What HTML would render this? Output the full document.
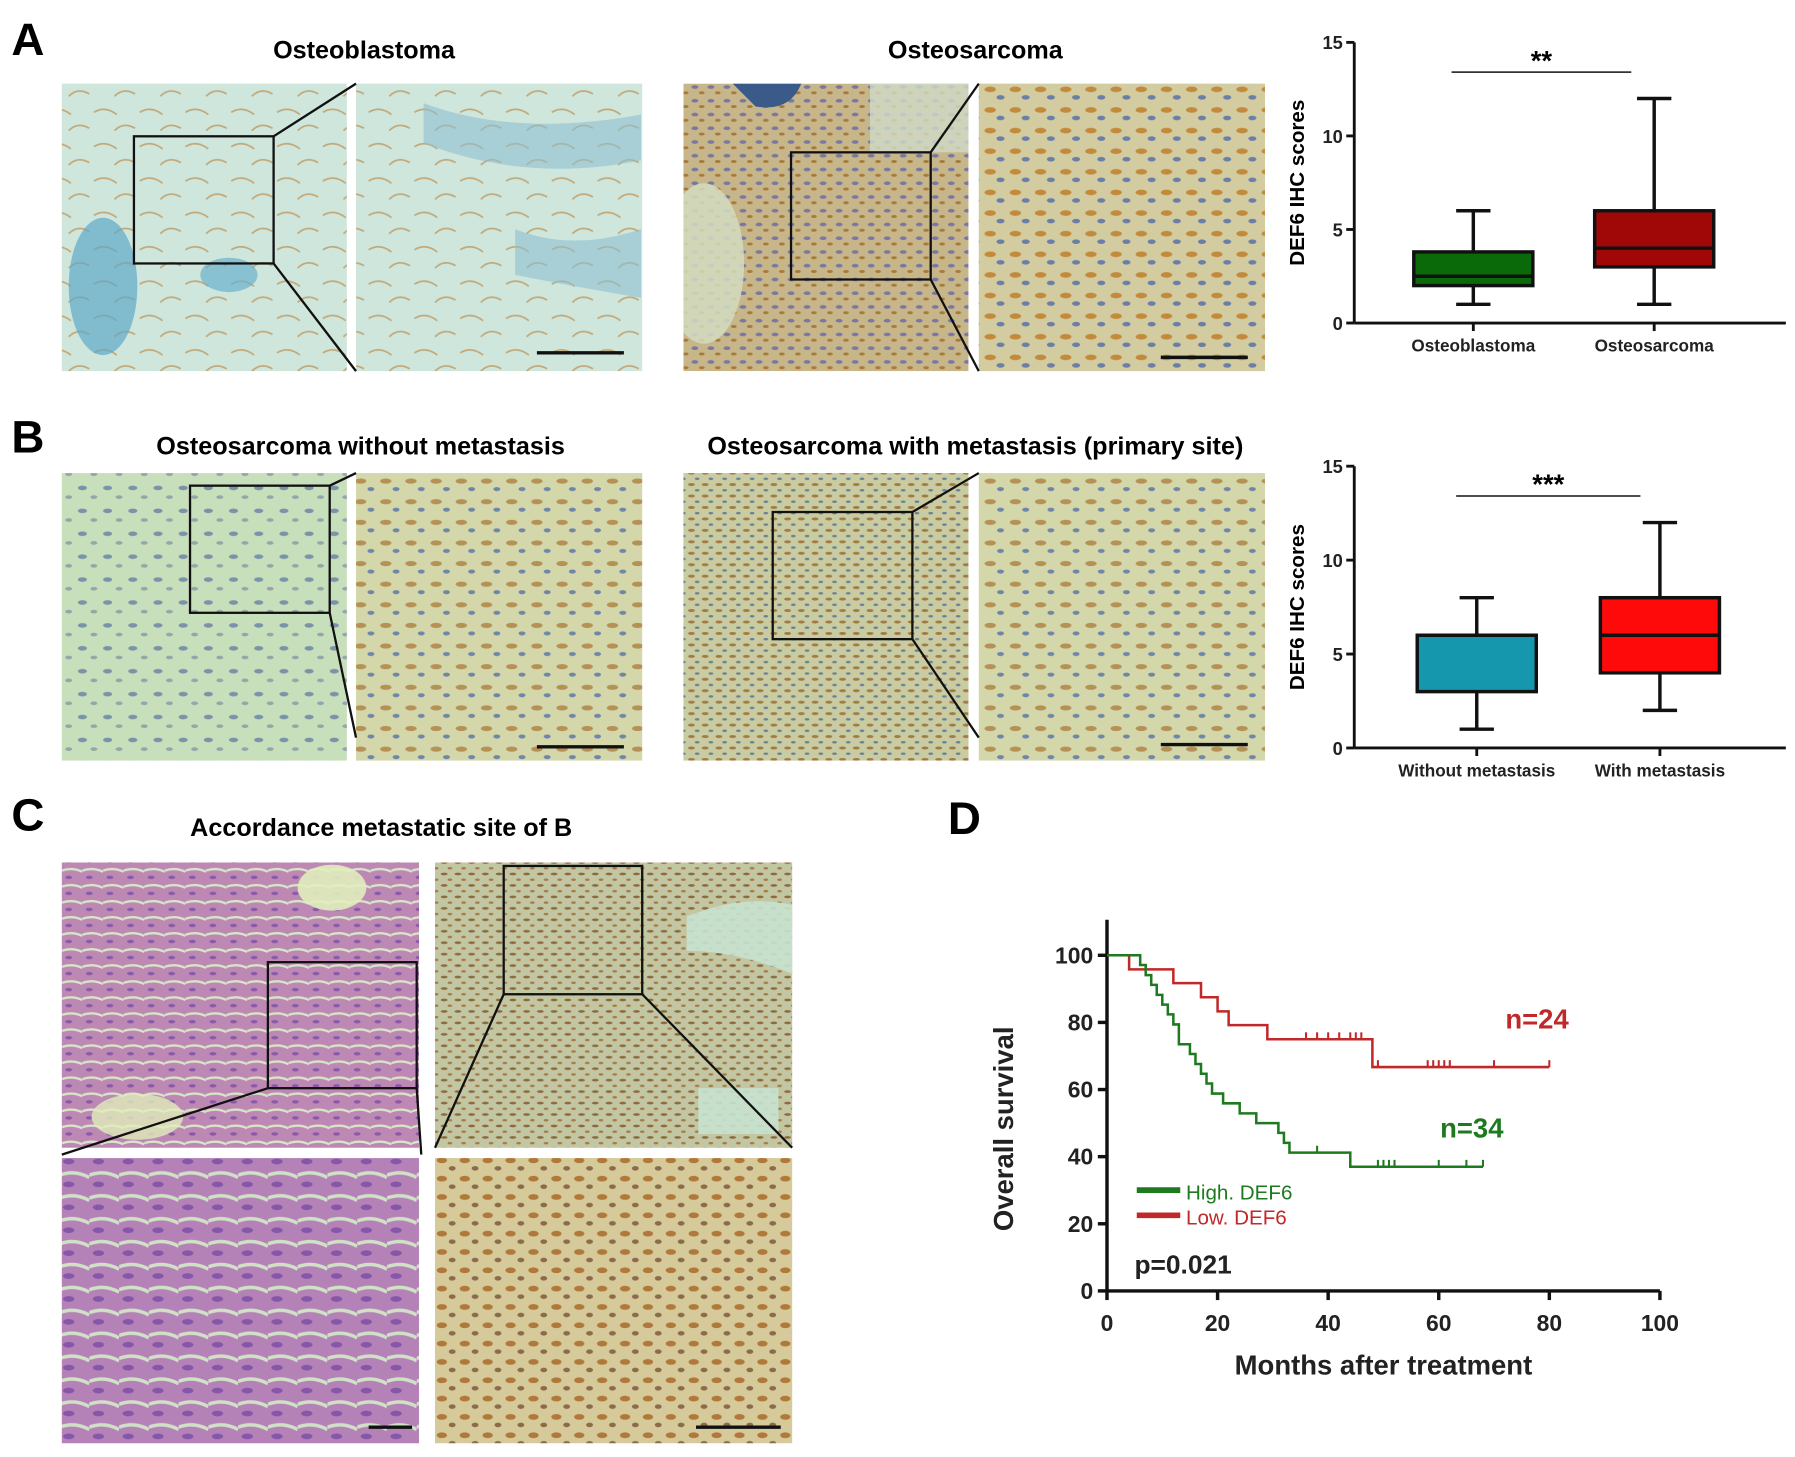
<!DOCTYPE html>
<html><head><meta charset="utf-8"><style>
html,body{margin:0;padding:0;background:#fff;}
svg{display:block;}
text{font-family:"Liberation Sans",sans-serif;}
</style></head><body>
<svg id="fig" width="1795" height="1457" viewBox="0 0 1568 1272" preserveAspectRatio="none" xmlns="http://www.w3.org/2000/svg">
<defs>
 <clipPath id="clipA2"><rect x="597" y="73" width="249" height="251"/></clipPath>
 <pattern id="pA1" width="40" height="30" patternUnits="userSpaceOnUse"><rect width="40" height="30" fill="#cfe6dc"/><path d="M2 8 q10 -6 20 2 M20 24 q8 -8 18 -2" stroke="#c2a878" stroke-width="1.5" fill="none"/></pattern>
 <pattern id="pA2" width="14" height="12" patternUnits="userSpaceOnUse"><rect width="14" height="12" fill="#c7b68a"/><ellipse cx="5" cy="4" rx="3" ry="1.6" fill="#7a78a0"/><ellipse cx="11" cy="9" rx="2.5" ry="1.3" fill="#a87a3a"/></pattern>
 <pattern id="pA3" width="22" height="18" patternUnits="userSpaceOnUse"><rect width="22" height="18" fill="#d2cca0"/><ellipse cx="7" cy="6" rx="5" ry="2.5" fill="#c48a3c"/><ellipse cx="16" cy="13" rx="3.5" ry="2" fill="#6b7ea8"/></pattern>
 <pattern id="pB1" width="22" height="20" patternUnits="userSpaceOnUse"><rect width="22" height="20" fill="#c8dfbc"/><ellipse cx="6" cy="6" rx="4" ry="2" fill="#7b93a8"/><ellipse cx="16" cy="14" rx="3" ry="1.6" fill="#93a7a8"/></pattern>
 <pattern id="pB2" width="12" height="10" patternUnits="userSpaceOnUse"><rect width="12" height="10" fill="#c9cba0"/><ellipse cx="4" cy="3" rx="3" ry="1.3" fill="#a27a48"/><ellipse cx="9" cy="8" rx="2" ry="1" fill="#6c7e98"/></pattern>
 <pattern id="pB3" width="22" height="18" patternUnits="userSpaceOnUse"><rect width="22" height="18" fill="#d3d7aa"/><ellipse cx="7" cy="6" rx="5" ry="2.3" fill="#b69155"/><ellipse cx="16" cy="13" rx="3" ry="1.8" fill="#6f86a8"/></pattern>
 <pattern id="pHE" width="18" height="14" patternUnits="userSpaceOnUse"><rect width="18" height="14" fill="#bd88b4"/><path d="M0 4 q9 -3 18 1" stroke="#d8e6c8" stroke-width="2" fill="none"/><ellipse cx="6" cy="10" rx="3" ry="1.5" fill="#8a5aa8"/></pattern>
 <pattern id="pHE2" width="26" height="20" patternUnits="userSpaceOnUse"><rect width="26" height="20" fill="#b582b8"/><path d="M0 6 q13 -5 26 2" stroke="#cfe2c6" stroke-width="3" fill="none"/><ellipse cx="8" cy="14" rx="5" ry="2.5" fill="#8656a8"/></pattern>
 <pattern id="pC2" width="12" height="10" patternUnits="userSpaceOnUse"><rect width="12" height="10" fill="#c2c6a2"/><ellipse cx="4" cy="3" rx="3" ry="1.2" fill="#8c6a3a"/><ellipse cx="9" cy="8" rx="2" ry="1" fill="#a67a44"/></pattern>
 <pattern id="pC4" width="20" height="16" patternUnits="userSpaceOnUse"><rect width="20" height="16" fill="#d6c99a"/><ellipse cx="6" cy="5" rx="4.5" ry="2.5" fill="#b0793a"/><ellipse cx="15" cy="12" rx="3" ry="2" fill="#8a6b4a"/></pattern>
</defs>

<text x="10" y="48" font-size="40" font-weight="bold">A</text>
<text x="10" y="395" font-size="40" font-weight="bold">B</text>
<text x="10" y="725" font-size="40" font-weight="bold">C</text>
<text x="828" y="728" font-size="40" font-weight="bold">D</text>

<g font-size="22" font-weight="bold" text-anchor="middle">
<text x="318" y="51">Osteoblastoma</text>
<text x="852" y="51">Osteosarcoma</text>
<text x="315" y="397">Osteosarcoma without metastasis</text>
<text x="852" y="397">Osteosarcoma with metastasis (primary site)</text>
<text x="333" y="730">Accordance metastatic site of B</text>
</g>

<g>
<rect x="54" y="73" width="249" height="251" fill="url(#pA1)"/>
<ellipse cx="90" cy="250" rx="30" ry="60" fill="#5fa8c8" opacity="0.7"/>
<ellipse cx="200" cy="240" rx="25" ry="15" fill="#6ab0cc" opacity="0.7"/>
<rect x="311" y="73" width="250" height="251" fill="url(#pA1)"/>
<path d="M370 90 q80 30 190 10 l0 40 q-100 20 -190 -15z" fill="#8ec0d0" opacity="0.6"/>
<path d="M450 200 q50 20 110 0 l0 60 q-60 -10 -110 -20z" fill="#8ec0d0" opacity="0.6"/>
<rect x="117" y="119" width="122" height="111" fill="none" stroke="#111" stroke-width="2"/>
<line x1="239" y1="119" x2="311" y2="73" stroke="#111" stroke-width="2"/>
<line x1="239" y1="230" x2="311" y2="324" stroke="#111" stroke-width="2"/>
<line x1="469" y1="308" x2="545" y2="308" stroke="#111" stroke-width="3"/>
<g clip-path="url(#clipA2)">
<rect x="597" y="73" width="249" height="251" fill="url(#pA2)"/>
<ellipse cx="615" cy="230" rx="35" ry="70" fill="#d4dcc0" opacity="0.85"/>
<path d="M640 73 l60 0 q-10 25 -40 20z" fill="#3a5a8a"/>
<rect x="760" y="73" width="86" height="60" fill="#cfdcc8" opacity="0.8"/>
</g>
<rect x="855" y="73" width="250" height="251" fill="url(#pA3)"/>
<rect x="691" y="133" width="122" height="111" fill="none" stroke="#111" stroke-width="2"/>
<line x1="813" y1="133" x2="855" y2="73" stroke="#111" stroke-width="2"/>
<line x1="813" y1="244" x2="855" y2="324" stroke="#111" stroke-width="2"/>
<line x1="1014" y1="312" x2="1090" y2="312" stroke="#111" stroke-width="3"/>
</g>

<g>
<rect x="54" y="413" width="249" height="251" fill="url(#pB1)"/>
<rect x="311" y="413" width="250" height="251" fill="url(#pB3)"/>
<rect x="166" y="424" width="122" height="111" fill="none" stroke="#111" stroke-width="2"/>
<line x1="288" y1="424" x2="311" y2="413" stroke="#111" stroke-width="2"/>
<line x1="288" y1="535" x2="311" y2="644" stroke="#111" stroke-width="2"/>
<line x1="469" y1="652" x2="545" y2="652" stroke="#111" stroke-width="3"/>
<rect x="597" y="413" width="249" height="251" fill="url(#pB2)"/>
<rect x="855" y="413" width="250" height="251" fill="url(#pB3)"/>
<rect x="675" y="447" width="122" height="111" fill="none" stroke="#111" stroke-width="2"/>
<line x1="797" y1="447" x2="855" y2="413" stroke="#111" stroke-width="2"/>
<line x1="797" y1="558" x2="855" y2="644" stroke="#111" stroke-width="2"/>
<line x1="1014" y1="650" x2="1090" y2="650" stroke="#111" stroke-width="3"/>
</g>

<g>
<rect x="54" y="753" width="312" height="249" fill="url(#pHE)"/>
<ellipse cx="290" cy="775" rx="30" ry="20" fill="#e0eebc" opacity="0.9"/>
<ellipse cx="120" cy="975" rx="40" ry="20" fill="#e0eebc" opacity="0.8"/>
<rect x="380" y="753" width="312" height="249" fill="url(#pC2)"/>
<path d="M600 800 q50 -20 92 -10 l0 60 q-50 -20 -92 -20z" fill="#c8e2d0" opacity="0.9"/>
<rect x="610" y="950" width="70" height="40" fill="#c8e2d0" opacity="0.9"/>
<rect x="54" y="1011" width="312" height="249" fill="url(#pHE2)"/>
<rect x="380" y="1011" width="312" height="249" fill="url(#pC4)"/>
<rect x="234" y="840" width="130" height="110" fill="none" stroke="#111" stroke-width="2"/>
<line x1="234" y1="950" x2="54" y2="1008" stroke="#111" stroke-width="2"/>
<line x1="364" y1="950" x2="368" y2="1008" stroke="#111" stroke-width="2"/>
<rect x="440" y="756" width="121" height="112" fill="none" stroke="#111" stroke-width="2"/>
<line x1="440" y1="868" x2="380" y2="1002" stroke="#111" stroke-width="2"/>
<line x1="561" y1="868" x2="692" y2="1002" stroke="#111" stroke-width="2"/>
<line x1="322" y1="1246" x2="360" y2="1246" stroke="#111" stroke-width="3"/>
<line x1="608" y1="1246" x2="682" y2="1246" stroke="#111" stroke-width="3"/>
</g>

<g id="boxA"></g>
<g id="boxB"></g>
<g id="km"></g>
</svg>
<script>
const NS="http://www.w3.org/2000/svg";
const boxACategories=["Osteoblastoma","Osteosarcoma"];
const boxAMin=[1,1], boxAQ1=[2,3], boxAMed=[2.5,4], boxAQ3=[3.8,6], boxAMax=[6,12];
const boxAColors=["#0a6a0a","#a00808"];
const boxBCategories=["Without metastasis","With metastasis"];
const boxBMin=[1,2], boxBQ1=[3,4], boxBMed=[6,6], boxBQ3=[6,8], boxBMax=[8,12];
const boxBColors=["#1597ad","#ff0a0a"];
const boxTicks=[0,5,10,15];
const kmHighTimes=[0,6,7,8,9,10,11,12,13,15,16,17,18,19,21,24,27,31,32,33,34,35,44,68];
const kmHighSurv=[100,97.1,94.1,91.2,88.2,85.3,82.4,79.4,73.5,70.6,67.6,64.7,61.8,58.8,55.9,52.9,50,47.1,44.1,41.2,41.2,41.2,37,37];
const kmHighCensor=[31,38,49,50,51,52,60,65,68];
const kmLowTimes=[0,4,12,17,20,22,29,48,80];
const kmLowSurv=[100,95.8,91.7,87.5,83.3,79.2,75,66.7,66.7];
const kmLowCensor=[36,38,40,42,44,45,46,49,58,59,60,61,62,70,80];
const kmXTicks=[0,20,40,60,80,100];
const kmYTicks=[0,20,40,60,80,100];

function mk(tag,attrs,parent,txt){const e=document.createElementNS(NS,tag);for(const k in attrs)e.setAttribute(k,attrs[k]);if(txt!==undefined)e.textContent=txt;parent.appendChild(e);return e;}

function boxplot(g,ax,y0,y15,cats,mn,q1,md,q3,mx,cols,sig,sigX1,sigX2,sigY,centers){
  const ys=v=>y0-(y0-y15)*v/15;
  const bw=104;
  const yl=mk('line',{x1:ax,y1:ys(15),x2:ax,y2:y0,stroke:'#111','stroke-width':2.5},g);
  
  
  const xl=mk('line',{x1:ax,y1:y0,x2:1560,y2:y0,stroke:'#111','stroke-width':2.5},g);
  
  
  boxTicks.forEach(t=>{
    mk('line',{x1:ax-7,y1:ys(t),x2:ax,y2:ys(t),stroke:'#111','stroke-width':2.5},g);
    const tl=mk('text',{x:ax-10,y:ys(t)+6,'font-size':16,'font-weight':'bold','text-anchor':'end',fill:'#222'},g,String(t));
    
    
  });
  const yt=mk('text',{transform:`translate(${ax-44},${(y0+y15)/2}) rotate(-90)`,'font-size':18,'font-weight':'bold','text-anchor':'middle'},g,'DEF6 IHC scores');
  
  
  cats.forEach((c,i)=>{
    const cx=centers[i];
    mk('line',{x1:cx,y1:y0,x2:cx,y2:y0+7,stroke:'#111','stroke-width':2.5},g);
    const cl=mk('text',{x:cx,y:y0+25,'font-size':15,'font-weight':'bold','text-anchor':'middle',fill:'#222'},g,c);
    
    
    const bg=mk('g',{},g);
    
    
    mk('line',{x1:cx,y1:ys(mx[i]),x2:cx,y2:ys(mn[i]),stroke:'#111','stroke-width':3},bg);
    mk('line',{x1:cx-15,y1:ys(mx[i]),x2:cx+15,y2:ys(mx[i]),stroke:'#111','stroke-width':3},bg);
    mk('line',{x1:cx-15,y1:ys(mn[i]),x2:cx+15,y2:ys(mn[i]),stroke:'#111','stroke-width':3},bg);
    mk('rect',{x:cx-bw/2,y:ys(q3[i]),width:bw,height:ys(q1[i])-ys(q3[i]),fill:cols[i],stroke:'#111','stroke-width':3},bg);
    mk('line',{x1:cx-bw/2,y1:ys(md[i]),x2:cx+bw/2,y2:ys(md[i]),stroke:'#111','stroke-width':3},bg);
  });
  mk('line',{x1:sigX1,y1:sigY,x2:sigX2,y2:sigY,stroke:'#333','stroke-width':1.5},g);
  const st=mk('text',{x:(sigX1+sigX2)/2,y:sigY-2,'font-size':24,'font-weight':'bold','text-anchor':'middle'},g,sig);
  
  
}
boxplot(document.getElementById('boxA'),1183,282,37,boxACategories,boxAMin,boxAQ1,boxAMed,boxAQ3,boxAMax,boxAColors,'**',1268,1425,63,[1287,1445]);
boxplot(document.getElementById('boxB'),1183,653,407,boxBCategories,boxBMin,boxBQ1,boxBMed,boxBQ3,boxBMax,boxBColors,'***',1272,1433,433,[1290,1450]);

(function(){
  const g=document.getElementById('km');
  const x0=967,x1=1450,y0=1127,y1=834;
  const xs=v=>x0+(x1-x0)*v/100, ys=v=>y0-(y0-y1)*v/100;
  const ya=mk('line',{x1:x0,y1:803,x2:x0,y2:y0,stroke:'#111','stroke-width':3},g);
  
  
  const xa=mk('line',{x1:x0,y1:y0,x2:x1,y2:y0,stroke:'#111','stroke-width':3},g);
  
  
  kmYTicks.forEach(t=>{
    mk('line',{x1:x0-8,y1:ys(t),x2:x0,y2:ys(t),stroke:'#111','stroke-width':3},g);
    const tl=mk('text',{x:x0-12,y:ys(t)+7,'font-size':20,'font-weight':'bold','text-anchor':'end',fill:'#222'},g,String(t));
    
    
  });
  kmXTicks.forEach(t=>{
    mk('line',{x1:xs(t),y1:y0,x2:xs(t),y2:y0+8,stroke:'#111','stroke-width':3},g);
    const tl=mk('text',{x:xs(t),y:y0+35,'font-size':20,'font-weight':'bold','text-anchor':'middle',fill:'#222'},g,String(t));
    
    
  });
  const xt=mk('text',{x:(x0+x1)/2,y:1200,'font-size':24,'font-weight':'bold','text-anchor':'middle',fill:'#222'},g,'Months after treatment');
  
  
  const yt=mk('text',{transform:`translate(885,${(y0+y1)/2+5}) rotate(-90)`,'font-size':24,'font-weight':'bold','text-anchor':'middle',fill:'#222'},g,'Overall survival');
  
  
  function curve(times,surv,cens,col,name){
    let d=`M${xs(times[0])} ${ys(surv[0])}`;
    for(let i=1;i<times.length;i++){d+=` H${xs(times[i])} V${ys(surv[i])}`;}
    const p=mk('path',{d:d,fill:'none',stroke:col,'stroke-width':2.2},g);
    
    
    cens.forEach(c=>{
      let s=surv[0];for(let i=0;i<times.length;i++){if(times[i]<=c)s=surv[i];}
      const cl=mk('line',{x1:xs(c),y1:ys(s),x2:xs(c),y2:ys(s)-6,stroke:col,'stroke-width':1.8},g);
      
      
    });
  }
  curve(kmLowTimes,kmLowSurv,kmLowCensor,'#c0282a','low-def6-curve');
  curve(kmHighTimes,kmHighSurv,kmHighCensor,'#1e7a1e','high-def6-curve');
  const n1=mk('text',{x:1315,y:898,'font-size':24,'font-weight':'bold',fill:'#c0282a'},g,'n=24');
  
  
  const n2=mk('text',{x:1258,y:993,'font-size':24,'font-weight':'bold',fill:'#1e7a1e'},g,'n=34');
  
  
  const lg=mk('g',{},g);
  
  
  mk('line',{x1:993,y1:1039,x2:1031,y2:1039,stroke:'#1e7a1e','stroke-width':5},lg);
  const l1=mk('text',{x:1036,y:1047,'font-size':18,fill:'#1e7a1e'},lg,'High. DEF6');
  
  
  mk('line',{x1:993,y1:1061,x2:1031,y2:1061,stroke:'#c0282a','stroke-width':5},lg);
  const l2=mk('text',{x:1036,y:1069,'font-size':18,fill:'#c0282a'},lg,'Low. DEF6');
  
  
  const pv=mk('text',{x:991,y:1112,'font-size':23,'font-weight':'bold',fill:'#222'},g,'p=0.021');
  
  
})();
</script>
</body></html>
